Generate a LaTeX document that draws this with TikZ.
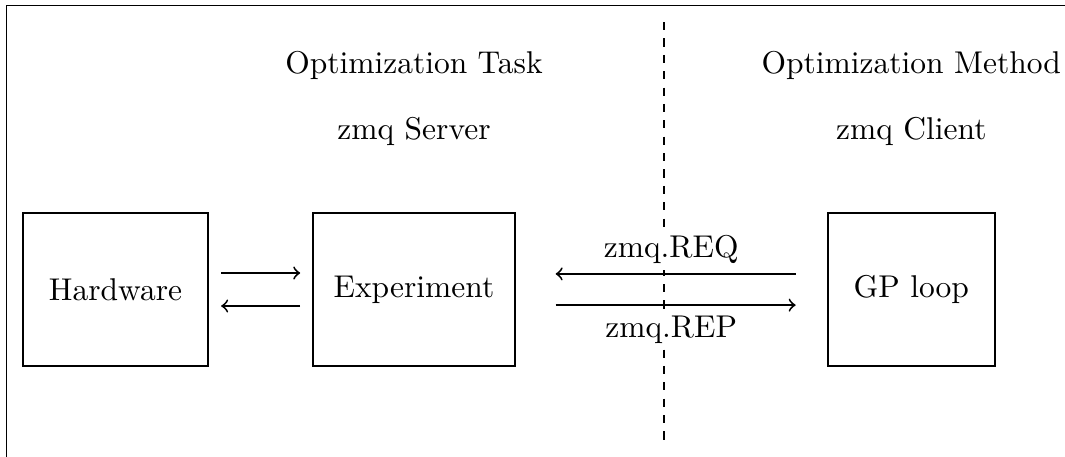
\documentclass[tikz,border=0pt]{standalone}
\usetikzlibrary{positioning}

\begin{document}
\begin{tikzpicture}[>=to,node distance=1.16cm and 3.47cm,
block/.style={draw,line width=0.6pt,minimum height=1.71cm,inner xsep=2pt},
title/.style={inner sep=3.33pt},
lbl/.style={fill=white,inner sep=2pt},
arr/.style={->,line width=0.6pt}]
\useasboundingbox (0,0) rectangle (11.886,-5.1);
% frame and separator
\draw[line width=0.6pt] (0.073,-5.3) -- (0.073,-0.061) -- (12.1,-0.061);
\coordinate (septop) at (7.411,-0.246);
\coordinate (sepbot) at (7.411,-4.955);
\draw[dashed,line width=0.4pt,dash pattern=on 2.6pt off 2.6pt] (septop) -- (sepbot);
% blocks
\node[block,minimum width=2.07cm] (hw) at (1.289,-3.231) {Hardware};
\node[block,minimum width=2.25cm,right=1.15cm of hw] (exp) {Experiment};
\node[block,minimum width=1.87cm,right=3.47cm of exp] (gp) {GP loop};
% titles
\node[title,above=0.62cm of exp] (server) {zmq Server};
\node[title,above=0.17cm of server] (task) {Optimization Task};
\node[title,above=0.62cm of gp] (client) {zmq Client};
\node[title,above=0.17cm of client] (method) {Optimization Method};
% connectors
\draw[arr,shorten <=0.134cm,shorten >=0.134cm] ([yshift=0.184cm]hw.east) -- ([yshift=0.184cm]exp.west);
\draw[arr,shorten <=0.134cm,shorten >=0.134cm] ([yshift=-0.184cm]exp.west) -- ([yshift=-0.184cm]hw.east);
\draw[arr,shorten <=0.346cm,shorten >=0.446cm] ([yshift=0.174cm]gp.west) -- node[lbl,above=1pt]{zmq.REQ} ([yshift=0.174cm]exp.east);
\draw[arr,shorten <=0.446cm,shorten >=0.346cm] ([yshift=-0.174cm]exp.east) -- node[lbl,below=1pt]{zmq.REP} ([yshift=-0.174cm]gp.west);
\end{tikzpicture}
\end{document}
